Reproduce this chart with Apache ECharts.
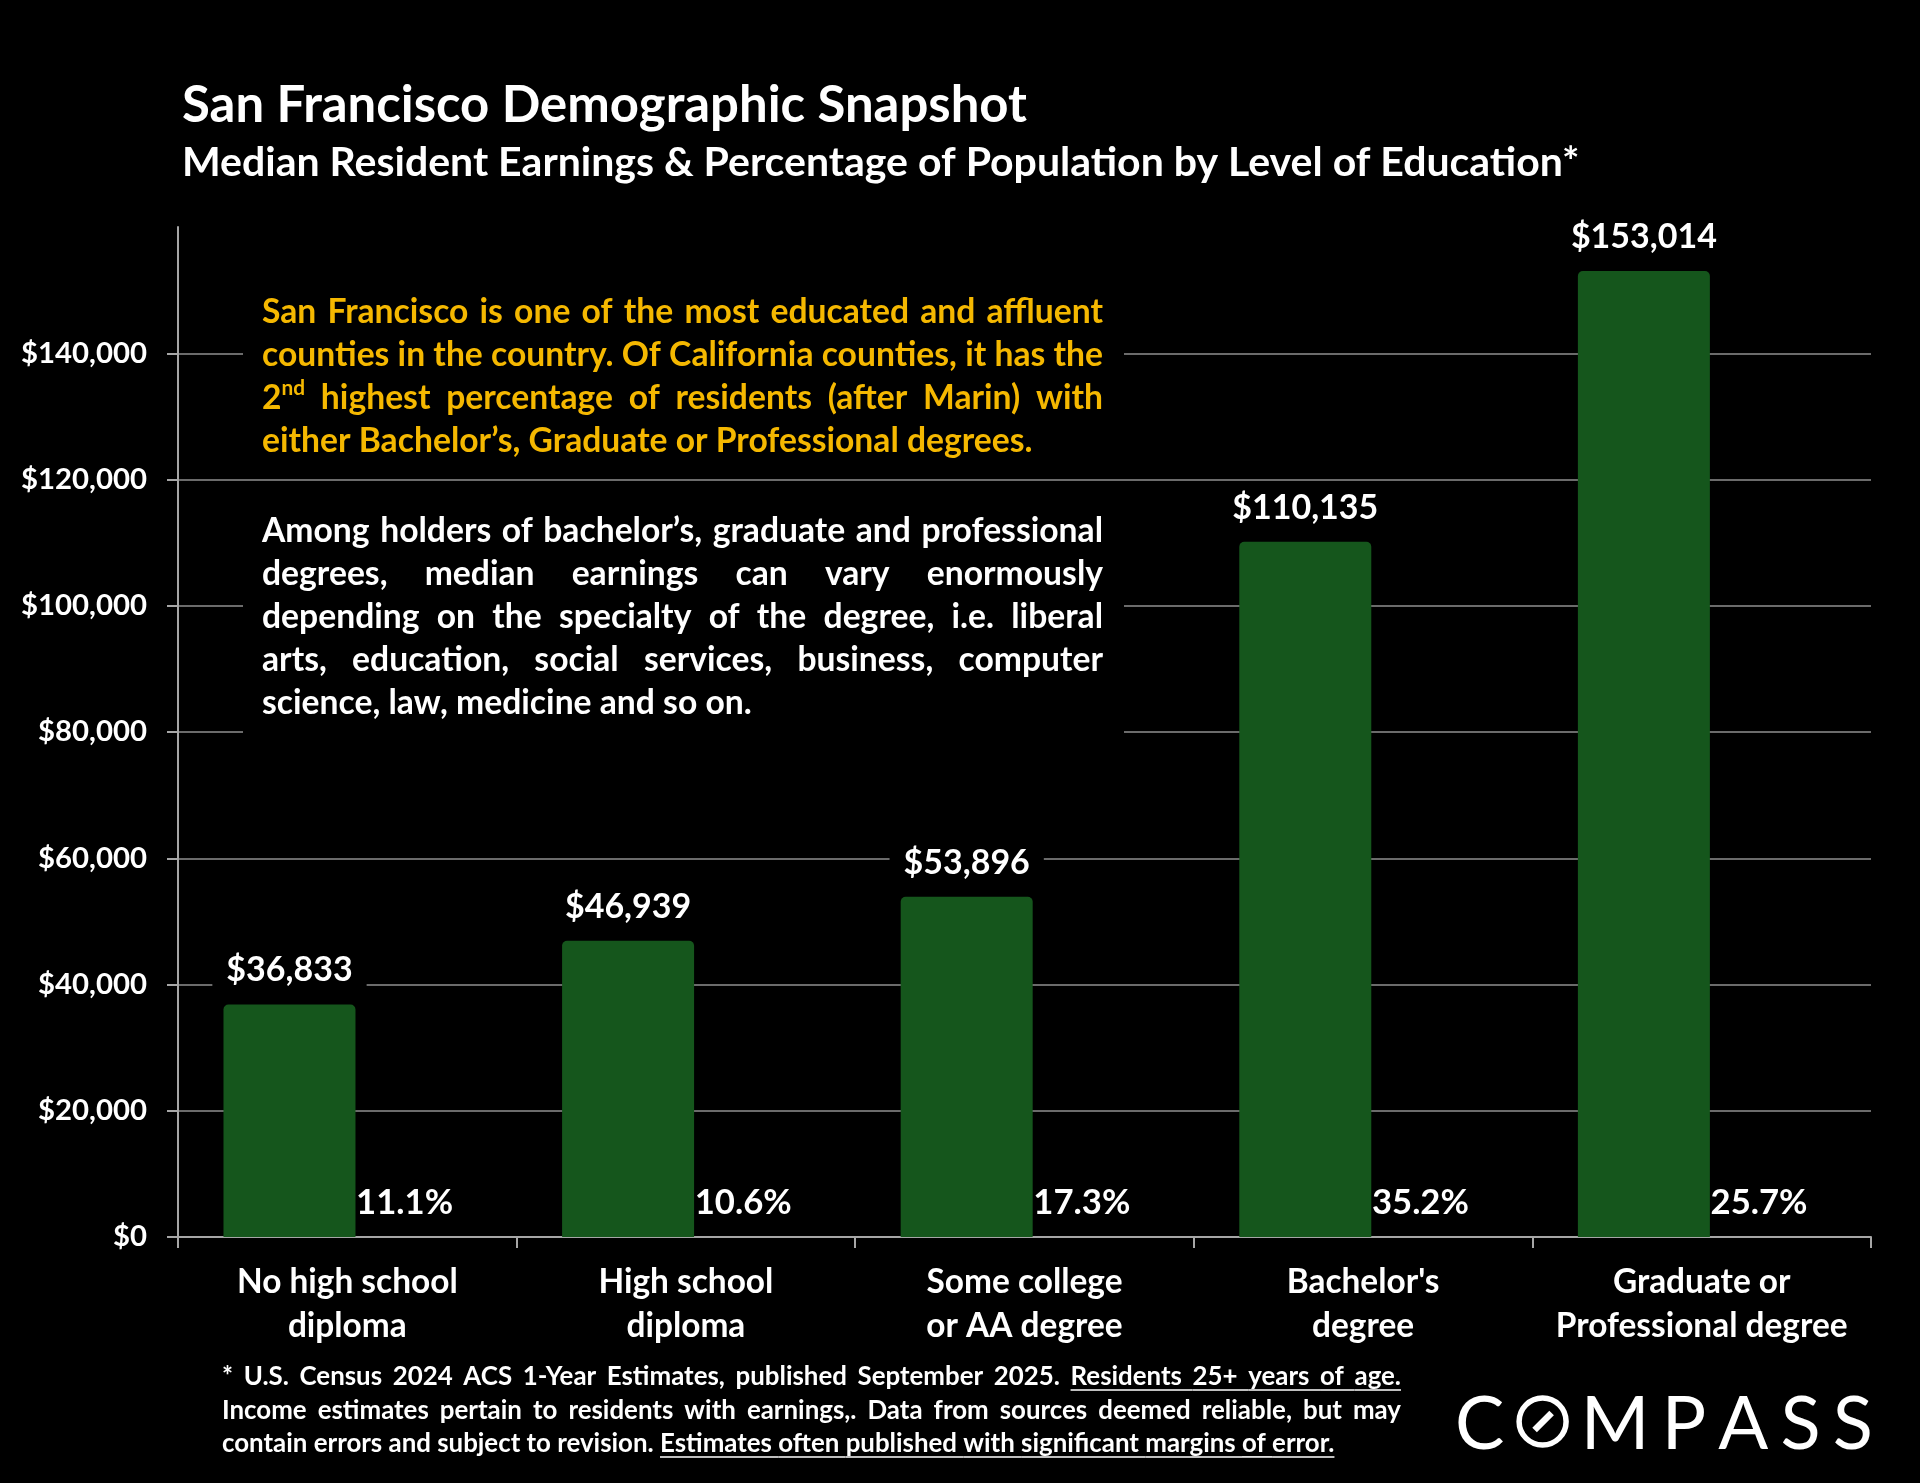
<!DOCTYPE html>
<html><head><meta charset="utf-8">
<script src="https://cdn.jsdelivr.net/npm/echarts@6/dist/echarts.min.js"></script>
<style>html,body{margin:0;padding:0;background:#000;} #c{width:1920px;height:1483px;}</style>
</head><body><div id="c"></div>
<script>
// ---------- DATA ----------
const categories = ['No high school\ndiploma', 'High school\ndiploma', 'Some college\nor AA degree', "Bachelor's\ndegree", 'Graduate or\nProfessional degree'];
const earnings = [36833, 46939, 53896, 110135, 153014];
const shares = [11.1, 10.6, 17.3, 35.2, 25.7];
const yTicks = [0, 20000, 40000, 60000, 80000, 100000, 120000, 140000];
const yMax = 160000;

const titleText = 'San Francisco Demographic Snapshot';
const subtitleText = 'Median Resident Earnings & Percentage of Population by Level of Education*';
const noteYellow = [
  'San Francisco is one of the most educated and affluent',
  'counties in the country. Of California counties, it has the',
  '2{nd} highest percentage of residents (after Marin) with',
  'either Bachelor\u2019s, Graduate or Professional degrees.'
];
const noteWhite = [
  'Among holders of bachelor\u2019s, graduate and professional',
  'degrees, median earnings can vary enormously',
  'depending on the specialty of the degree, i.e. liberal',
  'arts, education, social services, business, computer',
  'science, law, medicine and so on.'
];
const footnote = [
  '* U.S. Census 2024 ACS 1-Year Estimates, published September 2025. ~Residents ~25+ ~years ~of ~age.',
  'Income estimates pertain to residents with earnings,. Data from sources deemed reliable, but may',
  'contain errors and subject to revision. ~Estimates ~often ~published ~with ~significant ~margins ~of ~error.'
];
const logoLetters = ['C', 'O', 'M', 'P', 'A', 'S', 'S'];

// ---------- helpers ----------
const FAM = 'Lato, "Open Sans", sans-serif';
const cv = document.createElement('canvas').getContext('2d');
function measure(t, size, weight) { cv.font = weight + ' ' + size + 'px ' + FAM; return cv.measureText(t).width; }
function fitSize(t, target, weight) { return 100 * target / measure(t, 100, weight); }
const money = v => '$' + Math.round(v).toLocaleString('en-US');

function draw() {
  const G = [];
  function textEl(x, y, t, size, weight, color, align) {
    return { type: 'text', x: x, y: y, z: 110, silent: true,
      style: { text: t, fill: color, font: weight + ' ' + size + 'px ' + FAM,
        textAlign: align || 'left', align: align || 'left',
        textVerticalAlign: 'middle', verticalAlign: 'middle' } };
  }
  function parseWord(w) {
    let u = false;
    if (w.startsWith('~')) { u = true; w = w.slice(1); }
    const m = w.match(/^(.*)\{(.*)\}(.*)$/);
    const segs = m ? [{ t: m[1] }, { t: m[2], sup: true }, { t: m[3] }].filter(s => s.t) : [{ t: w }];
    return { segs: segs, u: u };
  }
  function layoutLine(line, x0, x1, y, size, weight, color, justify) {
    const words = line.split(' ').map(parseWord);
    const supSize = size * 0.62;
    words.forEach(w => { w.w = w.segs.reduce((a, s) => a + measure(s.t, s.sup ? supSize : size, weight), 0); });
    const sum = words.reduce((a, w) => a + w.w, 0);
    const gap = (justify && words.length > 1) ? (x1 - x0 - sum) / (words.length - 1) : measure(' ', size, weight);
    let x = x0;
    words.forEach((w, i) => {
      let sx = x;
      w.segs.forEach(s => {
        const sz = s.sup ? supSize : size;
        G.push(textEl(sx, s.sup ? y - size * 0.3 : y, s.t, sz, weight, color));
        sx += measure(s.t, sz, weight);
      });
      if (w.u) {
        const nx = words[i + 1];
        const end = (nx && nx.u) ? x + w.w + gap : x + w.w;
        const uy = y + size * 0.5;
        G.push({ type: 'line', z: 110, silent: true, shape: { x1: x, y1: uy, x2: end, y2: uy }, style: { stroke: color, lineWidth: 1.6 } });
      }
      x += w.w + gap;
    });
  }

  // sizes fitted to reference widths
  const titleSize = fitSize(titleText, 845, 'bold');
  const subSize = fitSize(subtitleText, 1398, 'bold');
  const ySize = fitSize('$140,000', 126, 'bold');
  const valSize = fitSize('$153,014', 146, 'bold');
  const pctSize = fitSize('11.1%', 97, 'bold');
  const xSize = fitSize('Professional degree', 292, 'bold');
  const boxSize = (fitSize(noteYellow[3], 769, 'bold') + fitSize(noteWhite[4], 491, 'bold')) / 2;
  const footSize = fitSize(footnote[2].replace(/~/g, ''), 1113, 'bold');

  // titles
  G.push(textEl(182, 106, titleText, titleSize, 'bold', '#ffffff'));
  G.push(textEl(182, 163, subtitleText, subSize, 'bold', '#ffffff'));

  // text boxes (black fill hides gridlines)
  G.push({ type: 'rect', z: 100, silent: true, shape: { x: 243, y: 278, width: 881, height: 192 }, style: { fill: '#000' } });
  G.push({ type: 'rect', z: 100, silent: true, shape: { x: 243, y: 490, width: 881, height: 255 }, style: { fill: '#000' } });
  const yl = [312, 355, 398, 441];
  noteYellow.forEach((l, i) => layoutLine(l, 262, 1103, yl[i], boxSize, 'bold', '#f5b800', i < noteYellow.length - 1));
  const wl = [531, 574, 617, 660, 703];
  noteWhite.forEach((l, i) => layoutLine(l, 262, 1103, wl[i], boxSize, 'bold', '#ffffff', i < noteWhite.length - 1));

  // footnote
  const fl = [1377, 1410.5, 1444];
  footnote.forEach((l, i) => layoutLine(l, 222, 1401, fl[i], footSize, 'bold', '#ffffff', i < footnote.length - 1));

  // COMPASS logo: glyphs spread with equal gaps between 1455 and 1873
  const logoSize = 74, logoX0 = 1455, logoX1 = 1873, ly = 1421.5, oDiam = 52;
  const gw = logoLetters.map(c => c === 'O' ? oDiam : measure(c, logoSize, 'normal'));
  const lgap = (logoX1 - logoX0 - gw.reduce((a, b) => a + b, 0)) / (logoLetters.length - 1);
  let lx = logoX0;
  logoLetters.forEach((c, i) => {
    const cx = lx + gw[i] / 2;
    if (c === 'O') {
      G.push({ type: 'circle', z: 110, silent: true, shape: { cx: cx, cy: ly, r: 23.5 }, style: { fill: 'none', stroke: '#fff', lineWidth: 5.5 } });
      G.push({ type: 'line', z: 110, silent: true, shape: { x1: cx - 8, y1: ly + 8.5, x2: cx + 9, y2: ly - 8.5 }, style: { stroke: '#fff', lineWidth: 6.5 } });
    } else {
      G.push(textEl(cx, ly + 4, c, logoSize, 'normal', '#ffffff', 'center'));
    }
    lx += gw[i] + lgap;
  });

  const chart = echarts.init(document.getElementById('c'), null, { width: 1920, height: 1483, renderer: 'canvas' });
  const gridColors = yTicks.map(() => '#6b6b6b').concat(['rgba(0,0,0,0)']);
  const option = {
    backgroundColor: '#000',
    animation: false,
    grid: { left: 178, right: 49, top: 227, bottom: 246, containLabel: false, outerBoundsMode: 'none' },
    xAxis: {
      type: 'category', data: categories,
      axisLine: { show: true, lineStyle: { color: '#a6a6a6', width: 2 } },
      axisTick: { show: true, length: 11, alignWithLabel: false, lineStyle: { color: '#a6a6a6', width: 2 } },
      axisLabel: { color: '#ffffff', fontFamily: FAM, fontWeight: 'bold', fontSize: xSize, lineHeight: 44, margin: 23, interval: 0 },
      splitLine: { show: false }
    },
    yAxis: [{
      type: 'value', min: 0, max: yMax, interval: 20000,
      axisLine: { show: true, lineStyle: { color: '#a6a6a6', width: 2 } },
      axisTick: { show: true, length: 11, customValues: yTicks, lineStyle: { color: '#a6a6a6', width: 2 } },
      axisLabel: { color: '#ffffff', fontFamily: FAM, fontWeight: 'bold', fontSize: ySize, margin: 31,
        customValues: yTicks, formatter: v => (v >= yMax ? '' : money(v)) },
      splitLine: { show: true, lineStyle: { color: gridColors, width: 2 } }
    }, {
      type: 'value', min: 0, max: 100, show: false,
      axisLine: { show: false }, axisTick: { show: false }, axisLabel: { show: false }, splitLine: { show: false }
    }],
    series: [{
      name: 'Median earnings', type: 'bar', data: earnings, barWidth: 132, barGap: '-12.4%',
      itemStyle: { color: '#15561c', borderRadius: [5, 5, 0, 0] },
      label: { show: true, position: 'top', distance: 15, formatter: p => money(p.value),
        color: '#ffffff', fontFamily: FAM, fontWeight: 'bold', fontSize: valSize, lineHeight: valSize,
        backgroundColor: '#000', padding: [2, 14] },
      z: 3
    }, {
      name: 'Share of population', type: 'bar', yAxisIndex: 1, data: shares, barWidth: 132, barGap: '-12.4%',
      silent: true,
      itemStyle: { color: 'rgba(0,0,0,0)' },
      label: { show: true, position: 'insideBottomLeft', distance: 0,
        offset: [17, (1202.5 + pctSize / 2) - 1237],
        formatter: p => p.value.toFixed(1) + '%',
        color: '#ffffff', fontFamily: FAM, fontWeight: 'bold', fontSize: pctSize, lineHeight: pctSize },
      z: 4
    }],
    graphic: { elements: G }
  };
  chart.setOption(option);
}
if (document.fonts && document.fonts.ready) { document.fonts.ready.then(draw); } else { draw(); }
</script>
</body></html>
